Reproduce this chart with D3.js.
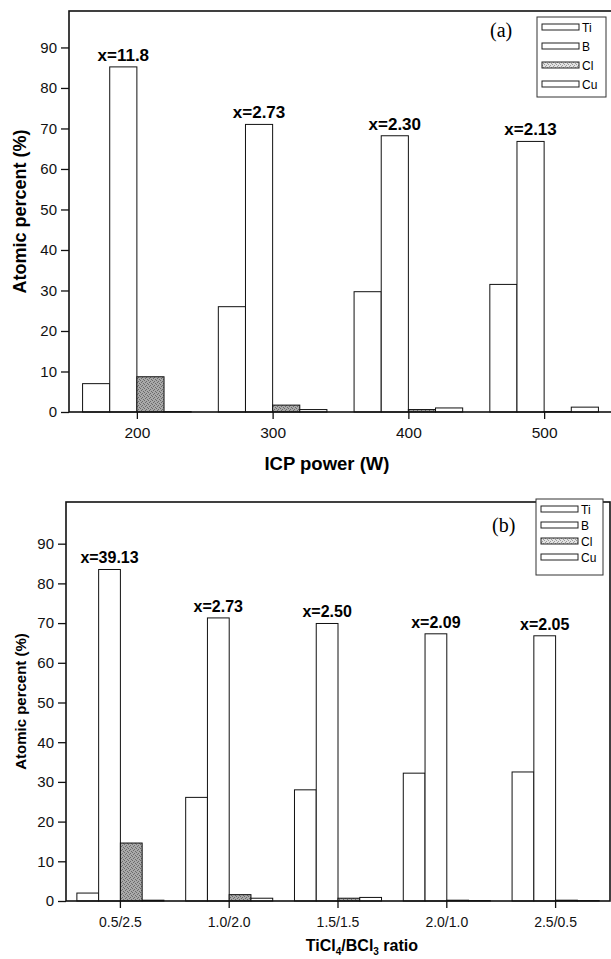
<!DOCTYPE html>
<html>
<head>
<meta charset="utf-8">
<script src="https://cdn.jsdelivr.net/npm/d3@7/dist/d3.min.js"></script>
<style>
  body { margin: 0; background: #fff; }
  svg { display: block; font-family: "Liberation Sans", Arial, sans-serif; }
</style>
</head>
<body>
<svg id="fig" width="611" height="959"></svg>
<script>
// element order in every group
const elements = ["Ti", "B", "Cl", "Cu"];
const yTicks = [0, 10, 20, 30, 40, 50, 60, 70, 80, 90];

// (a) ICP power series
const powerLevels = [200, 300, 400, 500];
const powerTi = [7.0, 26.0, 29.7, 31.5];
const powerB  = [85.2, 71.0, 68.2, 66.8];
const powerCl = [8.7, 1.7, 0.6, 0.1];
const powerCu = [0.1, 0.6, 1.0, 1.2];
const powerX  = ["x=11.8", "x=2.73", "x=2.30", "x=2.13"];

// (b) TiCl4/BCl3 ratio series
const gasRatios = ["0.5/2.5", "1.0/2.0", "1.5/1.5", "2.0/1.0", "2.5/0.5"];
const gasTi = [2.0, 26.1, 28.0, 32.2, 32.5];
const gasB  = [83.5, 71.3, 69.9, 67.3, 66.8];
const gasCl = [14.6, 1.6, 0.7, 0.2, 0.2];
const gasCu = [0.2, 0.7, 0.9, 0.1, 0.1];
const gasX  = ["x=39.13", "x=2.73", "x=2.50", "x=2.09", "x=2.05"];

const svg = d3.select("#fig");

// stipple fills for Cl
const defs = svg.append("defs");
function stipple(id, base, dot) {
    const p = defs.append("pattern").attr("id", id)
        .attr("width", 4).attr("height", 4).attr("patternUnits", "userSpaceOnUse");
    p.append("rect").attr("width", 4).attr("height", 4).attr("fill", base);
    [[0, 0], [2, 1], [1, 2], [3, 3]].forEach(([x, y]) =>
        p.append("rect").attr("x", x).attr("y", y).attr("width", 1).attr("height", 1).attr("fill", dot));
}
stipple("clBar", "#a9a9a9", "#6a6a6a");
stipple("clKey", "#e2e2e2", "#9a9a9a");
const fills = ["#fff", "#fff", "url(#clBar)", "#fff"];

function panel(cfg) {
    const g = svg.append("g");
    const y = d3.scaleLinear().domain(cfg.yDomain).range([cfg.bottom, cfg.top]);

    // bars
    cfg.series.forEach((vals, j) => {
        g.selectAll(null).data(vals).enter().append("rect")
            .attr("x", (d, i) => cfg.barX(i, j))
            .attr("width", cfg.barW)
            .attr("y", d => y(d))
            .attr("height", d => cfg.bottom - y(d))
            .attr("fill", fills[j])
            .attr("stroke", "#111").attr("stroke-width", 1);
    });

    // x= labels over the B bars
    g.selectAll(null).data(cfg.labels).enter().append("text")
        .attr("x", (d, i) => cfg.barX(i, 1) + cfg.barW / 2)
        .attr("y", (d, i) => y(cfg.series[1][i]) - 6)
        .attr("text-anchor", "middle")
        .attr("font-size", cfg.labelFont).attr("font-weight", "bold")
        .text(d => d);

    // axes
    const xa = g.append("g").attr("transform", `translate(0,${cfg.bottom})`).call(cfg.xAxis);
    const ya = g.append("g").attr("transform", `translate(${cfg.left},0)`)
        .call(d3.axisLeft(y).tickValues(yTicks).tickSize(8).tickPadding(4));
    [xa, ya].forEach(a => {
        a.select(".domain").remove();
        a.selectAll("line").attr("stroke", "#111").attr("stroke-width", 1.3);
        a.selectAll("text").attr("fill", "#111")
            .attr("font-family", "Liberation Sans, Arial, sans-serif");
    });
    xa.selectAll("text").attr("font-size", cfg.tickFont);
    ya.selectAll("text").attr("font-size", 15);

    // frame
    g.append("rect").attr("x", cfg.left).attr("y", cfg.top)
        .attr("width", cfg.right - cfg.left).attr("height", cfg.bottom - cfg.top)
        .attr("fill", "none").attr("stroke", "#111").attr("stroke-width", 1.6);

    // panel tag
    g.append("text").attr("x", cfg.tag[1]).attr("y", cfg.tag[2])
        .attr("font-family", "Liberation Serif, Times New Roman, serif").attr("font-size", 20)
        .text(cfg.tag[0]);

    // legend
    const L = cfg.legend;
    g.append("rect").attr("x", L.x).attr("y", L.y).attr("width", L.w).attr("height", L.h)
        .attr("fill", "#fff").attr("stroke", "#333").attr("stroke-width", 1);
    elements.forEach((el, j) => {
        const cy = L.y + 10 + j * L.step;
        g.append("rect").attr("x", L.x + 5).attr("y", cy - 3).attr("width", 37).attr("height", 6)
            .attr("fill", j === 2 ? "url(#clKey)" : "#fff").attr("stroke", "#222").attr("stroke-width", 1);
        g.append("text").attr("x", L.x + 45).attr("y", cy + 4.5)
            .attr("font-size", 12).text(el);
    });

    // y axis title
    g.append("text")
        .attr("transform", `translate(${cfg.yTitleX},${(cfg.top + cfg.bottom) / 2}) rotate(-90)`)
        .attr("text-anchor", "middle").attr("font-weight", "bold").attr("font-size", cfg.yTitleFont)
        .text("Atomic percent (%)");
    return g;
}

// (a)
const xPow = d3.scaleLinear().domain([150, 550]).range([69, 612]);
const ga = panel({
    left: 69, right: 612, top: 11, bottom: 412,
    yDomain: [0, 99],
    series: [powerTi, powerB, powerCl, powerCu],
    labels: powerX, labelFont: 17,
    barX: (i, j) => xPow(powerLevels[i] - 40 + 20 * j),
    barW: xPow(170) - xPow(150),
    xAxis: d3.axisBottom(xPow).tickValues(powerLevels).tickSize(7).tickPadding(8),
    tickFont: 15.5,
    tag: ["(a)", 490, 37],
    legend: {x: 537, y: 17, w: 69, h: 80, step: 19},
    yTitleX: 26, yTitleFont: 18
});
ga.append("text").attr("x", xPow(340)).attr("y", 470)
    .attr("text-anchor", "middle").attr("font-weight", "bold").attr("font-size", 18.5)
    .text("ICP power (W)");

// (b)
const xGas = d3.scaleBand().domain(gasRatios).range([66, 610]).padding(0);
const step = xGas.bandwidth();
const gb = panel({
    left: 66, right: 610, top: 502, bottom: 901,
    yDomain: [0, 100.5],
    series: [gasTi, gasB, gasCl, gasCu],
    labels: gasX, labelFont: 16,
    barX: (i, j) => xGas(gasRatios[i]) + step * (0.1 + 0.2 * j),
    barW: step * 0.2,
    xAxis: d3.axisBottom(xGas).tickSize(7).tickPadding(9),
    tickFont: 14,
    tag: ["(b)", 492, 532],
    legend: {x: 536, y: 499, w: 67, h: 76, step: 16},
    yTitleX: 26, yTitleFont: 15
});
const xt = gb.append("text").attr("x", xGas("1.5/1.5") + step * 0.72).attr("y", 951)
    .attr("text-anchor", "middle").attr("font-weight", "bold").attr("font-size", 16);
xt.append("tspan").text("TiCl");
xt.append("tspan").attr("font-size", 10).attr("dy", 4).text("4");
xt.append("tspan").attr("dy", -4).text("/BCl");
xt.append("tspan").attr("font-size", 10).attr("dy", 4).text("3");
xt.append("tspan").attr("dy", -4).text(" ratio");
</script>
</body>
</html>
